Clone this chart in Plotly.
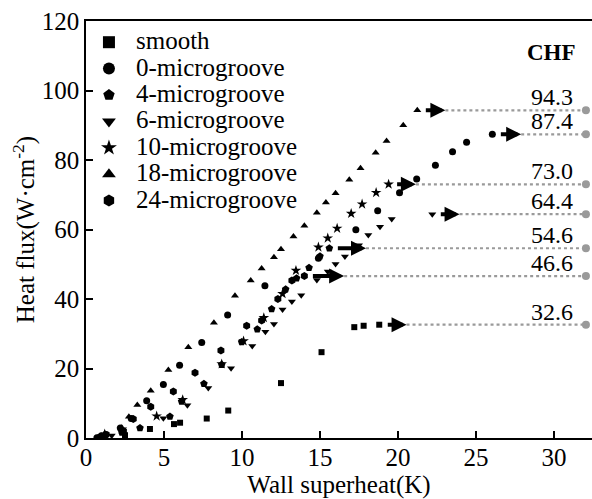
import plotly.graph_objects as go

# ---------------- data ----------------
series_names = ["smooth", "0-microgroove", "4-microgroove", "6-microgroove",
                "10-microgroove", "18-microgroove", "24-microgroove"]

smooth_x = [1.2, 2.5, 4.1, 5.64, 6.03, 7.74, 9.12, 12.5, 15.1, 17.2, 17.8, 18.8]
smooth_y = [0.2, 0.8, 2.6, 4.0, 4.4, 5.6, 7.9, 15.8, 24.7, 31.9, 32.3, 32.6]

g0_x = [0.7, 1.3, 2.2, 2.9, 3.89, 4.96, 6.0, 7.42, 9.08, 11.47, 14.9, 17.3,
        18.7, 20.1, 21.2, 22.4, 23.5, 24.4, 26.05]
g0_y = [0.1, 1.0, 2.9, 5.6, 10.7, 15.4, 20.9, 27.5, 35.4, 43.8, 51.7, 59.9,
        65.4, 70.6, 74.5, 78.5, 82.4, 85.1, 87.4]

g4_x = [0.9, 2.3, 3.46, 5.38, 6.13, 7.56, 8.7, 9.98, 10.98, 11.9, 12.8, 13.5,
        14.3, 15.0, 15.6]
g4_y = [0.4, 1.6, 2.9, 6.2, 10.5, 15.6, 21.1, 27.6, 31.3, 37.1, 42.8, 46.0,
        49.0, 52.3, 54.6]

g6_x = [1.65, 4.96, 6.5, 7.84, 9.3, 10.66, 11.5, 12.05, 12.6, 13.2, 13.8, 14.8,
        15.5, 16.0, 16.6, 17.5, 18.1, 18.85, 19.6, 22.2]
g6_y = [0.7, 5.7, 9.4, 14.4, 20.1, 26.5, 30.6, 32.8, 37.0, 39.3, 41.1, 45.5,
        47.9, 50.1, 52.2, 55.5, 58.4, 60.8, 63.0, 64.4]

g10_x = [1.2, 2.3, 4.53, 6.2, 8.7, 10.1, 11.4, 12.6, 13.46, 14.9, 15.5, 16.1,
         17.0, 17.7, 18.6, 19.4]
g10_y = [1.1, 2.5, 6.3, 11.0, 21.3, 27.9, 34.6, 41.5, 48.2, 54.9, 57.5, 60.3,
         64.6, 67.3, 70.6, 73.0]

g18_x = [0.9, 1.2, 2.75, 3.29, 4.15, 5.28, 6.56, 8.2, 9.55, 10.56, 11.26, 12.05,
         12.5, 13.3, 14.0, 14.8, 15.38, 16.0, 16.88, 17.6, 18.57, 19.27, 20.34, 21.24]
g18_y = [0.4, 1.3, 6.1, 9.5, 13.6, 19.6, 26.1, 33.2, 40.9, 45.3, 48.8, 52.0,
         54.3, 58.0, 61.1, 64.8, 67.8, 70.4, 74.3, 77.6, 82.1, 85.5, 90.0, 94.3]

g24_x = [1.0, 2.4, 3.03, 4.15, 5.6, 6.99, 8.65, 10.3, 11.26, 12.3, 13.2, 14.0]
g24_y = [0.5, 2.0, 5.5, 9.0, 13.4, 18.8, 25.2, 32.3, 33.8, 40.0, 45.3, 46.6]

chf_values = [32.6, 87.4, 54.6, 64.4, 73.0, 94.3, 46.6]

x_ticks = [0, 5, 10, 15, 20, 25, 30]
y_ticks = [0, 20, 40, 60, 80, 100, 120]

# ---------------- styles ----------------
FONT = "Liberation Serif"
symbols = ["square", "circle", "pentagon", "triangle-down", "star", "triangle-up", "hexagon"]
sizes = [6, 7, 8, 7, 8, 7, 8]
arrow_len = [1.3, 1.4, 1.9, 1.3, 1.3, 1.35, 2.1]
ARROW_GAP = 0.45
LINE_END_X = 32.05
LABEL_X = 31.35

xs = [smooth_x, g0_x, g4_x, g6_x, g10_x, g18_x, g24_x]
ys = [smooth_y, g0_y, g4_y, g6_y, g10_y, g18_y, g24_y]

fig = go.Figure()
for name, x, y, sym, sz in zip(series_names, xs, ys, symbols, sizes):
    fig.add_trace(go.Scatter(
        x=x, y=y, mode="markers", name=f'<span style="font-size:25px">{name}</span>',
        marker=dict(symbol=sym, size=sz, color="black", line=dict(width=0)),
    ))

annotations = []
for i, (x, chf) in enumerate(zip(xs, chf_values)):
    tail = x[-1] + ARROW_GAP
    tip = tail + arrow_len[i]
    fig.add_trace(go.Scatter(
        x=[tip, LINE_END_X], y=[chf, chf], mode="lines", showlegend=False,
        line=dict(color="#9a9a9a", width=2.2, dash="dot"), hoverinfo="skip"))
    fig.add_trace(go.Scatter(
        x=[LINE_END_X], y=[chf], mode="markers", showlegend=False,
        marker=dict(symbol="circle", size=8, color="#9a9a9a"), hoverinfo="skip"))
    annotations.append(dict(
        x=tip, y=chf, ax=tail, ay=chf, xref="x", yref="y", axref="x", ayref="y",
        showarrow=True, arrowhead=2, arrowwidth=4, arrowsize=0.75, arrowcolor="black",
        text=""))
    annotations.append(dict(
        x=LABEL_X, y=chf, xref="x", yref="y", text=f"{chf:.1f}", showarrow=False,
        xanchor="right", yanchor="bottom", yshift=-2,
        font=dict(family=FONT, size=24, color="black")))

annotations.append(dict(
    x=29.87, y=110.8, xref="x", yref="y", text="<b>CHF</b>", showarrow=False,
    xanchor="center", yanchor="middle", font=dict(family=FONT, size=23, color="black")))

fig.update_layout(
    width=592, height=499,
    margin=dict(l=86, r=0, t=21, b=61),
    plot_bgcolor="white", paper_bgcolor="white",
    font=dict(family=FONT, size=25, color="black"),
    showlegend=True,
    legend=dict(x=-0.008, y=0.9928, xanchor="left", yanchor="top",
                bgcolor="rgba(0,0,0,0)", borderwidth=0,
                font=dict(family=FONT, size=18, color="black"),
                itemsizing="constant", itemwidth=44, tracegroupgap=0),
    annotations=annotations,
)
fig.update_xaxes(range=[0, 32.44], tickvals=x_ticks, ticks="inside", ticklen=7,
                 tickwidth=1.5, tickcolor="black", showline=True, linecolor="black",
                 linewidth=1.5, mirror=True, showgrid=False, zeroline=False,
                 ticklabelstandoff=-4,
                 title=dict(text="Wall superheat(K)", font=dict(family=FONT, size=25), standoff=3),
                 tickfont=dict(family=FONT, size=25))
fig.update_yaxes(range=[0, 120], tickvals=y_ticks, ticks="inside", ticklen=7,
                 tickwidth=1.5, tickcolor="black", showline=True, linecolor="black",
                 linewidth=1.5, mirror=False, showgrid=False, zeroline=False,
                 title=dict(text="Heat flux(W·cm<sup>-2</sup>)", font=dict(family=FONT, size=25), standoff=0),
                 tickfont=dict(family=FONT, size=25))

fig.write_html("out.html")
